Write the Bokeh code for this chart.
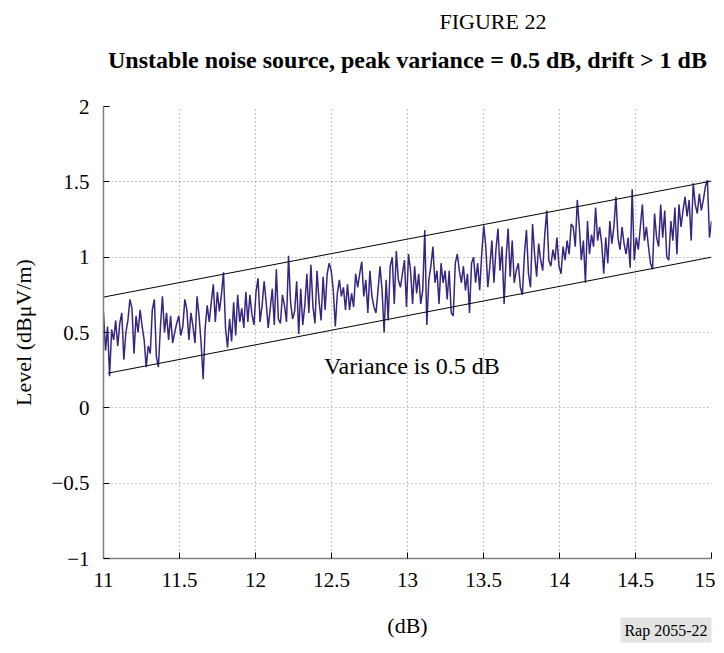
import numpy as np
from bokeh.plotting import figure
from bokeh.models import (Label, Range1d, FixedTicker, CustomJSTickFormatter,
                          Title, LinearAxis)
from bokeh.embed import file_html
from bokeh.resources import INLINE

# ---- data ----
level = [
    0.63, 0.38, 0.54, 0.21, 0.52, 0.45, 0.58, 0.41, 0.56, 0.63,
    0.32, 0.50, 0.58, 0.72, 0.66, 0.36, 0.61, 0.50, 0.65, 0.54,
    0.45, 0.27, 0.41, 0.36, 0.65, 0.72, 0.34, 0.27, 0.54, 0.74,
    0.50, 0.63, 0.45, 0.61, 0.43, 0.50, 0.56, 0.61, 0.48, 0.54,
    0.72, 0.65, 0.45, 0.63, 0.54, 0.43, 0.74, 0.61, 0.43, 0.19,
    0.53, 0.68, 0.57, 0.70, 0.82, 0.57, 0.77, 0.64, 0.75, 0.90,
    0.53, 0.40, 0.59, 0.44, 0.70, 0.48, 0.75, 0.57, 0.66, 0.53,
    0.77, 0.57, 0.75, 0.62, 0.55, 0.77, 0.86, 0.57, 0.68, 0.84,
    0.70, 0.53, 0.66, 0.79, 0.55, 0.92, 0.59, 0.56, 0.75, 0.68,
    0.57, 1.01, 0.70, 0.59, 0.64, 0.84, 0.49, 0.79, 0.55, 0.68,
    0.89, 0.63, 0.95, 0.67, 0.56, 0.91, 0.71, 0.58, 0.87, 0.65,
    0.89, 0.96, 0.91, 0.78, 0.54, 0.76, 0.85, 0.74, 0.80, 0.65,
    0.82, 0.65, 0.76, 0.67, 0.89, 0.80, 0.89, 0.97, 0.74, 0.85,
    0.63, 0.91, 0.74, 0.67, 0.63, 0.78, 0.94, 0.78, 0.50, 0.85,
    0.58, 0.94, 1.00, 0.69, 1.04, 0.85, 0.80, 0.89, 0.98,
    0.67, 1.02, 0.91, 0.69, 0.94, 0.76, 0.89, 0.69, 0.78, 1.18,
    0.55, 0.85, 0.94, 1.07, 0.83, 0.91, 0.69, 0.96, 0.83, 0.91,
    0.72, 0.91, 0.63, 0.61, 0.96, 1.02, 0.91, 0.83, 0.94, 0.78,
    0.89, 0.63, 0.96, 1.00, 0.83, 0.96, 0.78, 1.02, 1.21, 1.07,
    0.80, 0.94, 1.11, 0.83, 1.05, 1.19, 0.91, 1.07, 0.69,
    1.00, 1.19, 0.87, 1.11, 0.83, 0.91, 0.96, 0.80, 0.75, 1.02,
    1.18, 0.89, 0.80, 1.22, 1.02, 0.87, 1.09, 0.98, 0.91, 1.15,
    1.31, 0.98, 0.94, 1.05, 0.98, 1.13, 0.94, 0.89, 1.07, 0.98,
    1.11, 1.02, 1.22, 1.20, 1.07, 1.38, 1.20, 0.98, 1.11, 0.83,
    1.24, 1.02, 1.15, 1.07, 1.33, 1.11, 1.20, 1.09, 0.89,
    1.13, 0.96, 1.24, 1.09, 1.20, 1.40, 1.13, 1.05, 1.20, 1.09,
    1.02, 1.13, 0.93, 1.45, 0.98, 1.13, 1.05, 1.20, 1.35, 1.11,
    1.20, 1.07, 0.96, 0.92, 1.29, 1.13, 1.07, 1.35, 1.13, 1.31,
    1.00, 0.98, 1.24, 1.11, 1.33, 1.02, 1.35, 1.20, 1.31, 1.40,
    1.27, 1.38, 1.11, 1.49, 1.35, 1.29, 1.42, 1.31, 1.38, 1.47,
    1.51, 1.13, 1.24,
]
x_start, x_end = 11.0, 15.0
freq = np.linspace(x_start, x_end, len(level))

upper_x = [11.0, 15.0]
upper_y = [0.735, 1.505]
lower_x = [11.03, 15.0]
lower_y = [0.23, 1.0]

x_ticks = [11, 11.5, 12, 12.5, 13, 13.5, 14, 14.5, 15]
y_ticks = [-1, -0.5, 0, 0.5, 1, 1.5, 2]

title_fig = "FIGURE 22"
title_main = "Unstable noise source, peak variance = 0.5 dB, drift > 1 dB"
note_text = "Variance is 0.5 dB"
ref_text = "Rap 2055-22"

FONT = "Liberation Serif"

p = figure(width=715, height=644,
           x_range=Range1d(11, 15), y_range=Range1d(-1, 2),
           output_backend="svg", toolbar_location=None,
           min_border_left=103, min_border_right=4,
           min_border_top=105, min_border_bottom=86)
p.outline_line_color = None
p.background_fill_color = "white"
p.border_fill_color = "white"

fmt = CustomJSTickFormatter(code="return String(tick).replace('-', '\u2212');")
for ax, ticks in ((p.xaxis[0], x_ticks), (p.yaxis[0], y_ticks)):
    ax.ticker = FixedTicker(ticks=ticks)
    ax.formatter = fmt
    ax.major_label_text_font = FONT
    ax.major_label_text_font_size = "21px"
    ax.major_label_text_color = "black"
    ax.axis_line_color = "#808080"
    ax.axis_line_width = 1.5
    ax.major_tick_in = 6
    ax.major_tick_out = 0
    ax.major_tick_line_color = "black"
    ax.minor_tick_line_color = None
    ax.axis_label_text_font = FONT
    ax.axis_label_text_font_style = "normal"
    ax.axis_label_text_font_size = "22px"
    ax.axis_label_text_color = "black"

p.xaxis.axis_label = "(dB)"
p.xaxis.major_label_standoff = 14
p.xaxis.axis_label_standoff = 23
p.yaxis.axis_label = "Level (dB\u03bcV/m)"
p.yaxis.major_label_standoff = 14
p.yaxis.axis_label_standoff = 12

for g in (p.xgrid[0], p.ygrid[0]):
    g.grid_line_color = "#8c8c8c"
    g.grid_line_dash = "1 3"
    g.grid_line_width = 1

p.line(freq, level, line_color="#38257f", line_width=1.5)
p.line(upper_x, upper_y, line_color="black", line_width=1)
p.line(lower_x, lower_y, line_color="black", line_width=1)

p.add_layout(Label(x=12.45, y=0.28, text=note_text, text_font=FONT,
                   text_font_size="24px", text_baseline="middle",
                   text_align="left", text_color="black"))

# main (bold) title: label of an empty axis above the frame, centred on it
top_axis = LinearAxis(axis_label=title_main, ticker=FixedTicker(ticks=[]),
                      axis_line_color=None, major_tick_line_color=None,
                      minor_tick_line_color=None, major_tick_in=0,
                      major_tick_out=0, major_label_standoff=0,
                      axis_label_standoff=34,
                      axis_label_text_font=FONT,
                      axis_label_text_font_size="24px",
                      axis_label_text_font_style="bold",
                      axis_label_text_color="black")
p.add_layout(top_axis, "above")

# figure number, further out
p.add_layout(Title(text=title_fig, text_font=FONT, text_font_size="22px",
                   text_font_style="normal", align="left", offset=336,
                   vertical_align="top", standoff=16,
                   text_color="black"), "above")

# report reference tag at the bottom right
p.add_layout(Title(text=ref_text, text_font=FONT, text_font_size="16px",
                   text_font_style="normal", align="right", offset=0,
                   vertical_align="top", standoff=-46,
                   text_color="black", padding=4,
                   background_fill_color="#e3e3e3"), "below")

open("out.html", "w").write(file_html(p, INLINE))
